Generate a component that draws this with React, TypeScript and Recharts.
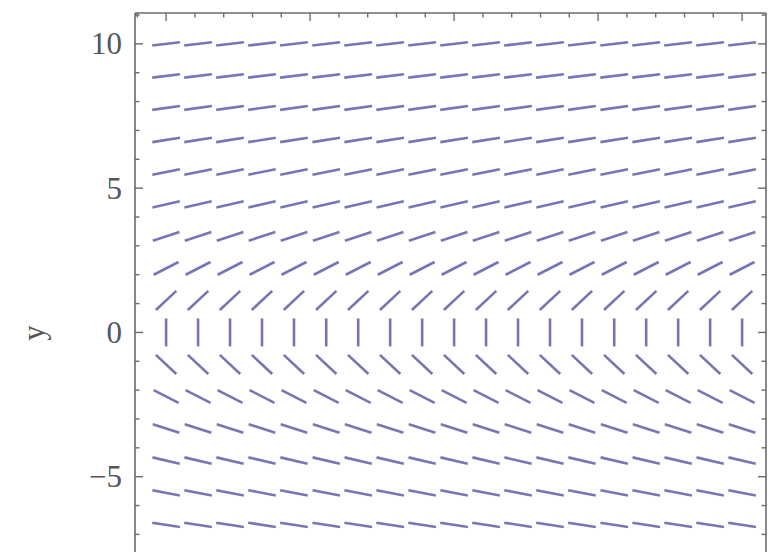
import React from "react";
import { ScatterChart, Scatter, XAxis, YAxis } from "recharts";

// grid of the slope field (19 x 19, step 10/9)
const xCols = [-10, -8.89, -7.78, -6.67, -5.56, -4.44, -3.33, -2.22, -1.11, 0, 1.11, 2.22, 3.33, 4.44, 5.56, 6.67, 7.78, 8.89, 10];
const yRows = [10, 8.89, 7.78, 6.67, 5.56, 4.44, 3.33, 2.22, 1.11, 0, -1.11, -2.22, -3.33, -4.44, -5.56, -6.67, -7.78, -8.89, -10];
// drawn direction of the segments in each row, degrees
const rowAngles = [7, 7, 8, 9, 11, 13, 18, 27, 43, 90, -43, -27, -18, -13, -11, -9, -8, -7, -7];

const yTicks = [-7, -6, -5, -4, -3, -2, -1, 0, 1, 2, 3, 4, 5, 6, 7, 8, 9, 10, 11];
const xTicks = [-11, -10, -9, -8, -7, -6, -5, -4, -3, -2, -1, 0, 1, 2, 3, 4, 5, 6, 7, 8, 9, 10];
const majorTicks = [-5, 0, 5, 10];
const majorLabels = ["−5", "0", "5", "10"];

const points = yRows.flatMap((y, i) => xCols.map((x) => ({ x, y, angle: rowAngles[i] })));

const FRAME = "#6b6b6b";
const SEG = "#5e5ea8";
const FONT = "'Liberation Serif', 'Times New Roman', serif";

const Segment = (props: any) => {
    const { cx, cy, payload } = props;
    if (cx == null || cy == null) return null;
    const a = (payload.angle * Math.PI) / 180;
    const h = 14;
    const dx = h * Math.cos(a);
    const dy = h * Math.sin(a);
    return (
        <line x1={cx - dx} y1={cy + dy} x2={cx + dx} y2={cy - dy}
            stroke={SEG} strokeWidth={2.6} strokeLinecap="butt" strokeOpacity={0.85} />
    );
};

const LeftTick = (props: any) => {
    const { x, y, payload } = props;
    const k = majorTicks.indexOf(payload.value);
    const len = k >= 0 ? 8 : 4.5;
    return (
        <g>
            <line x1={x} y1={y} x2={x + len} y2={y} stroke={FRAME} strokeWidth={1.4} />
            {k >= 0 && (
                <text x={x - 13} y={y} textAnchor="end" dominantBaseline="central"
                    fontFamily={FONT} fontSize={31} fill="#555">
                    {majorLabels[k]}
                </text>
            )}
        </g>
    );
};

const RightTick = (props: any) => {
    const { x, y, payload } = props;
    const len = majorTicks.includes(payload.value) ? 8 : 4.5;
    return <line x1={x} y1={y} x2={x - len} y2={y} stroke={FRAME} strokeWidth={1.4} />;
};

const TopTick = (props: any) => {
    const { x, y, payload } = props;
    const len = payload.value % 5 === 0 ? 8 : 4.5;
    return <line x1={x} y1={y} x2={x} y2={y + len} stroke={FRAME} strokeWidth={1.4} />;
};

const YLabel = () => (
    <text x={33} y={333} transform="rotate(-90 33 333)" textAnchor="middle" dominantBaseline="central"
        fontFamily={FONT} fontSize={31} fill="#555">
        y
    </text>
);

const App = () => {
    const yDomain = [-7.61, 11.07];
    return (
        <div style={{ position: "absolute", left: 0, top: 0, width: 769, height: 552, overflow: "hidden", background: "#fff" }}>
            <ScatterChart width={769} height={552} margin={{ top: 0, right: 0, bottom: 0, left: 0 }}>
                <XAxis xAxisId="top" orientation="top" type="number" dataKey="x" domain={[-11.08, 10.83]}
                    allowDataOverflow ticks={xTicks} height={13} tickSize={0} tickMargin={0}
                    tick={<TopTick />} axisLine={{ stroke: FRAME, strokeWidth: 1.6 }} tickLine={false} />
                <YAxis yAxisId="left" type="number" dataKey="y" domain={yDomain} allowDataOverflow
                    ticks={yTicks} width={135} tickSize={0} tickMargin={0} tick={<LeftTick />}
                    axisLine={{ stroke: FRAME, strokeWidth: 1.6 }} tickLine={false} label={<YLabel />} />
                <YAxis yAxisId="right" orientation="right" type="number" domain={yDomain} allowDataOverflow
                    ticks={yTicks} width={3} tickSize={0} tickMargin={0} tick={<RightTick />}
                    axisLine={{ stroke: FRAME, strokeWidth: 1.6 }} tickLine={false} />
                <Scatter xAxisId="top" yAxisId="left" data={points} shape={<Segment />} isAnimationActive={false} />
            </ScatterChart>
        </div>
    );
};

export default App;
